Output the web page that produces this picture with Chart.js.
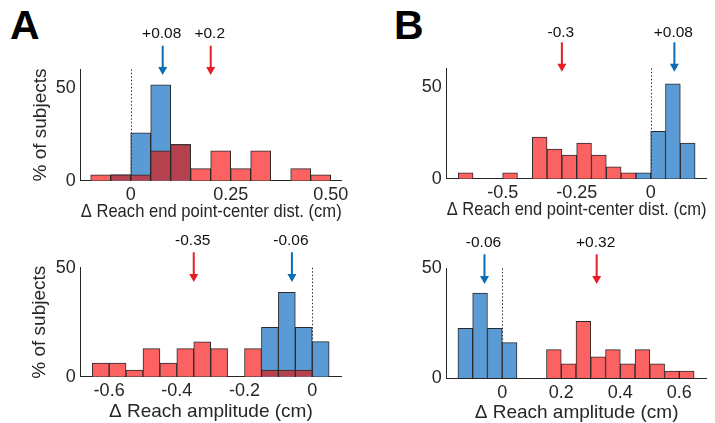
<!DOCTYPE html>
<html><head><meta charset="utf-8">
<script src="https://cdn.jsdelivr.net/npm/chart.js@4/dist/chart.umd.min.js"></script>
<style>
html,body{margin:0;padding:0;background:#fff;}
#wrap{position:relative;width:715px;height:423px;overflow:hidden;background:#fff;}
canvas{position:absolute;left:0;top:0;}
.lbl{position:absolute;font-family:"Liberation Sans",Arial,sans-serif;font-weight:bold;font-size:41px;line-height:41px;color:#000;}
</style></head><body>
<div id="wrap">
<div class="lbl" style="left:10px;top:5px">A</div>
<div class="lbl" style="left:394px;top:5px">B</div>
<canvas id="cAtop" width="715" height="423"></canvas>
<canvas id="cAbot" width="715" height="423"></canvas>
<canvas id="cBtop" width="715" height="423"></canvas>
<canvas id="cBbot" width="715" height="423"></canvas>
</div>
<script>
// ---------- data (percent of subjects per 0.05 cm bin; bins given by left edge) ----------
const binWidth = 0.05;

// Panel A, top: Δ reach end point-center distance
const aTopEdges = [-0.10, -0.05, 0.00, 0.05, 0.10, 0.15, 0.20, 0.25, 0.30, 0.35, 0.40, 0.45];
const aTopRed   = [3.2, 3.2, 3.2, 16.1, 19.4, 6.5, 16.1, 6.5, 16.1, 0, 6.5, 3.2];
const aTopBlue  = [0, 3.2, 25.8, 51.6, 19.4, 0, 0, 0, 0, 0, 0, 0];
const aTopMeans = [0.08, 0.2];
const aTopMeanLabels = ['+0.08', '+0.2'];
const aTopXTicks = [0, 0.25, 0.5];
const aTopXTickLabels = ['0', '0.25', '0.50'];

// Panel A, bottom: Δ reach amplitude
const aBotEdges = [-0.65, -0.60, -0.55, -0.50, -0.45, -0.40, -0.35, -0.30, -0.25, -0.20, -0.15, -0.10, -0.05, 0.00];
const aBotRed   = [6.3, 6.3, 3.0, 12.9, 6.3, 12.9, 16.0, 12.9, 0, 12.9, 3.0, 3.0, 3.0, 0];
const aBotBlue  = [0, 0, 0, 0, 0, 0, 0, 0, 0, 0, 22.6, 38.7, 22.6, 16.1];
const aBotMeans = [-0.06, -0.35];
const aBotMeanLabels = ['-0.06', '-0.35'];
const aBotXTicks = [-0.6, -0.4, -0.2, 0];
const aBotXTickLabels = ['-0.6', '-0.4', '-0.2', '0'];

// Panel B, top: Δ reach end point-center distance
const bTopEdges = [-0.65, -0.60, -0.55, -0.50, -0.45, -0.40, -0.35, -0.30, -0.25, -0.20, -0.15, -0.10, -0.05, 0.00, 0.05, 0.10];
const bTopRed   = [3.2, 0, 0, 3.2, 0, 22.6, 16.1, 12.9, 19.4, 12.9, 6.5, 3.2, 0, 0, 0, 0];
const bTopBlue  = [0, 0, 0, 0, 0, 0, 0, 0, 0, 0, 0, 0, 3.2, 25.8, 51.6, 19.4];
const bTopMeans = [0.08, -0.3];
const bTopMeanLabels = ['+0.08', '-0.3'];
const bTopXTicks = [-0.5, -0.25, 0];
const bTopXTickLabels = ['-0.5', '-0.25', '0'];

// Panel B, bottom: Δ reach amplitude
const bBotEdges = [-0.15, -0.10, -0.05, 0.00, 0.05, 0.10, 0.15, 0.20, 0.25, 0.30, 0.35, 0.40, 0.45, 0.50, 0.55, 0.60];
const bBotRed   = [0, 0, 0, 0, 0, 0, 12.9, 6.5, 25.8, 9.7, 12.9, 6.5, 12.9, 6.5, 3.2, 3.2];
const bBotBlue  = [22.6, 38.7, 22.6, 16.1, 0, 0, 0, 0, 0, 0, 0, 0, 0, 0, 0, 0];
const bBotMeans = [-0.06, 0.32];
const bBotMeanLabels = ['-0.06', '+0.32'];
const bBotXTicks = [0, 0.2, 0.4, 0.6];
const bBotXTickLabels = ['0', '0.2', '0.4', '0.6'];

const yTicksTop = [0, 50];
const yTicksBot = [0, 50];
const xTitleDist = 'Δ Reach end point-center dist. (cm)';
const xTitleAmp = 'Δ Reach amplitude (cm)';
const yTitle = '% of subjects';

// ---------- styles ----------
const FONT = '"Liberation Sans", Arial, sans-serif';
const TXT = '#262626';
const BLUE = '#5b9bd5';
const RED = '#fd6262';
const DARK = '#b5414f';
const EDGE = '#2a2a2a';
const ARROW_BLUE = '#0a6db5';
const ARROW_RED = '#e41e24';
const TICK_FONT = 18;
const XTITLE_FONT = 19;
const YTITLE_FONT = 19;

const marksPlugin = {
  id: 'marks',
  afterDatasetsDraw(chart, args, o) {
    const ctx = chart.ctx, xs = chart.scales.x, a = chart.chartArea;
    const x0 = Math.round(xs.getPixelForValue(0)) + 0.5;
    ctx.save();
    ctx.strokeStyle = '#333';
    ctx.lineWidth = 1;
    ctx.setLineDash([1.5, 2]);
    ctx.beginPath();
    ctx.moveTo(x0, a.top);
    ctx.lineTo(x0, a.bottom);
    ctx.stroke();
    ctx.restore();
  },
  afterDraw(chart, args, o) {
    const ctx = chart.ctx, xs = chart.scales.x, a = chart.chartArea;
    ctx.save();
    o.means.forEach((m, i) => {
      const x = xs.getPixelForValue(m);
      const col = o.colors[i];
      const tipY = a.top + o.tip, tailY = a.top + o.tail;
      ctx.strokeStyle = col; ctx.fillStyle = col; ctx.lineWidth = 2;
      ctx.beginPath();
      ctx.moveTo(x, tailY);
      ctx.lineTo(x, tipY - 6);
      ctx.stroke();
      ctx.beginPath();
      ctx.moveTo(x - 4.5, tipY - 8);
      ctx.lineTo(x + 4.5, tipY - 8);
      ctx.lineTo(x, tipY);
      ctx.closePath();
      ctx.fill();
      ctx.fillStyle = '#111';
      ctx.font = '15.5px ' + FONT;
      ctx.textAlign = 'center';
      ctx.textBaseline = 'middle';
      ctx.fillText(o.labels[i], x - 1, a.top + o.text);
    });
    ctx.restore();
  }
};

function buildPanel(id, p) {
  const centers = p.edges.map(e => e + binWidth / 2);
  const toPts = vals => centers.map((x, i) => ({x: x, y: vals[i]})).filter(d => d.y > 0);
  const overlap = p.red.map((v, i) => Math.min(v, p.blue[i]));
  const common = {borderWidth: 1, borderColor: EDGE, grouped: false, categoryPercentage: 1, barPercentage: 1};
  new Chart(document.getElementById(id), {
    type: 'bar',
    data: {
      datasets: [
        Object.assign({label: 'overlap', data: toPts(overlap), backgroundColor: DARK}, common),
        Object.assign({label: 'control', data: toPts(p.blue), backgroundColor: BLUE}, common),
        Object.assign({label: 'condition', data: toPts(p.red), backgroundColor: RED}, common)
      ]
    },
    options: {
      responsive: false,
      animation: false,
      devicePixelRatio: 1,
      layout: {padding: {left: p.yBoxLeft, right: 715 - p.area.r, top: p.area.t, bottom: 423 - p.area.b - p.xh}},
      plugins: {
        legend: {display: false},
        tooltip: {enabled: false},
        marks: {means: p.means, labels: p.meanLabels, colors: p.meanColors, tip: p.arrow[0], tail: p.arrow[1], text: p.arrow[2]}
      },
      scales: {
        x: {
          type: 'linear', min: p.xmin, max: p.xmax, offset: false, z: 1,
          grid: {display: false, drawTicks: false},
          border: {display: true, color: TXT, width: 1},
          afterBuildTicks: s => { s.ticks = p.xTicks.map(v => ({value: v})); },
          afterFit: s => { s.height = p.xh; },
          ticks: {autoSkip: false, maxRotation: 0, padding: 4, color: TXT, font: {family: FONT, size: TICK_FONT},
                  callback: (v, i) => p.xTickLabels[i]},
          title: {display: true, text: p.xTitle, color: TXT, font: {family: FONT, size: XTITLE_FONT, lineHeight: 1.2}, padding: {top: 0, bottom: 0}}
        },
        y: {
          type: 'linear', min: 0, max: p.ymax, z: 1,
          grid: {display: false, drawTicks: false},
          border: {display: true, color: TXT, width: 1},
          afterBuildTicks: s => { s.ticks = p.yTicks.map(v => ({value: v})); },
          afterFit: s => { s.width = p.area.l - p.yBoxLeft; },
          ticks: {padding: 5, color: TXT, font: {family: FONT, size: TICK_FONT}, callback: v => String(v)},
          title: {display: !!p.yTitle, text: p.yTitle || '', color: TXT, font: {family: FONT, size: YTITLE_FONT, lineHeight: 1.2}, padding: {top: 0, bottom: 0}}
        }
      }
    },
    plugins: [marksPlugin]
  });
}

buildPanel('cAtop', {
  edges: aTopEdges, red: aTopRed, blue: aTopBlue,
  means: aTopMeans, meanLabels: aTopMeanLabels, meanColors: [ARROW_BLUE, ARROW_RED],
  xTicks: aTopXTicks, xTickLabels: aTopXTickLabels, yTicks: yTicksTop,
  xmin: -0.125, xmax: 0.5275, ymax: 60,
  xTitle: xTitleDist, yTitle: yTitle,
  area: {l: 80.7, r: 341.7, t: 69.3, b: 180.7}, yBoxLeft: 29.6, xh: 42.4,
  arrow: [5.7, -23.6, -36]
});
buildPanel('cAbot', {
  edges: aBotEdges, red: aBotRed, blue: aBotBlue,
  means: aBotMeans, meanLabels: aBotMeanLabels, meanColors: [ARROW_BLUE, ARROW_RED],
  xTicks: aBotXTicks, xTickLabels: aBotXTickLabels, yTicks: yTicksBot,
  xmin: -0.684, xmax: 0.085, ymax: 50,
  xTitle: xTitleAmp, yTitle: yTitle,
  area: {l: 80.7, r: 341, t: 267.7, b: 376.7}, yBoxLeft: 28.6, xh: 46.4,
  arrow: [14.3, -15.4, -27]
});
buildPanel('cBtop', {
  edges: bTopEdges, red: bTopRed, blue: bTopBlue,
  means: bTopMeans, meanLabels: bTopMeanLabels, meanColors: [ARROW_BLUE, ARROW_RED],
  xTicks: bTopXTicks, xTickLabels: bTopXTickLabels, yTicks: yTicksTop,
  xmin: -0.689, xmax: 0.1885, ymax: 60,
  xTitle: xTitleDist, yTitle: null,
  area: {l: 446.7, r: 706.5, t: 68.3, b: 178.7}, yBoxLeft: 400, xh: 42.7,
  arrow: [3.4, -26, -36]
});
buildPanel('cBbot', {
  edges: bBotEdges, red: bBotRed, blue: bBotBlue,
  means: bBotMeans, meanLabels: bBotMeanLabels, meanColors: [ARROW_BLUE, ARROW_RED],
  xTicks: bBotXTicks, xTickLabels: bBotXTickLabels, yTicks: yTicksBot,
  xmin: -0.188, xmax: 0.692, ymax: 50,
  xTitle: xTitleAmp, yTitle: null,
  area: {l: 446.7, r: 706.5, t: 268.3, b: 378}, yBoxLeft: 400, xh: 46.4,
  arrow: [15.7, -14, -25.6]
});
</script>
</body></html>
